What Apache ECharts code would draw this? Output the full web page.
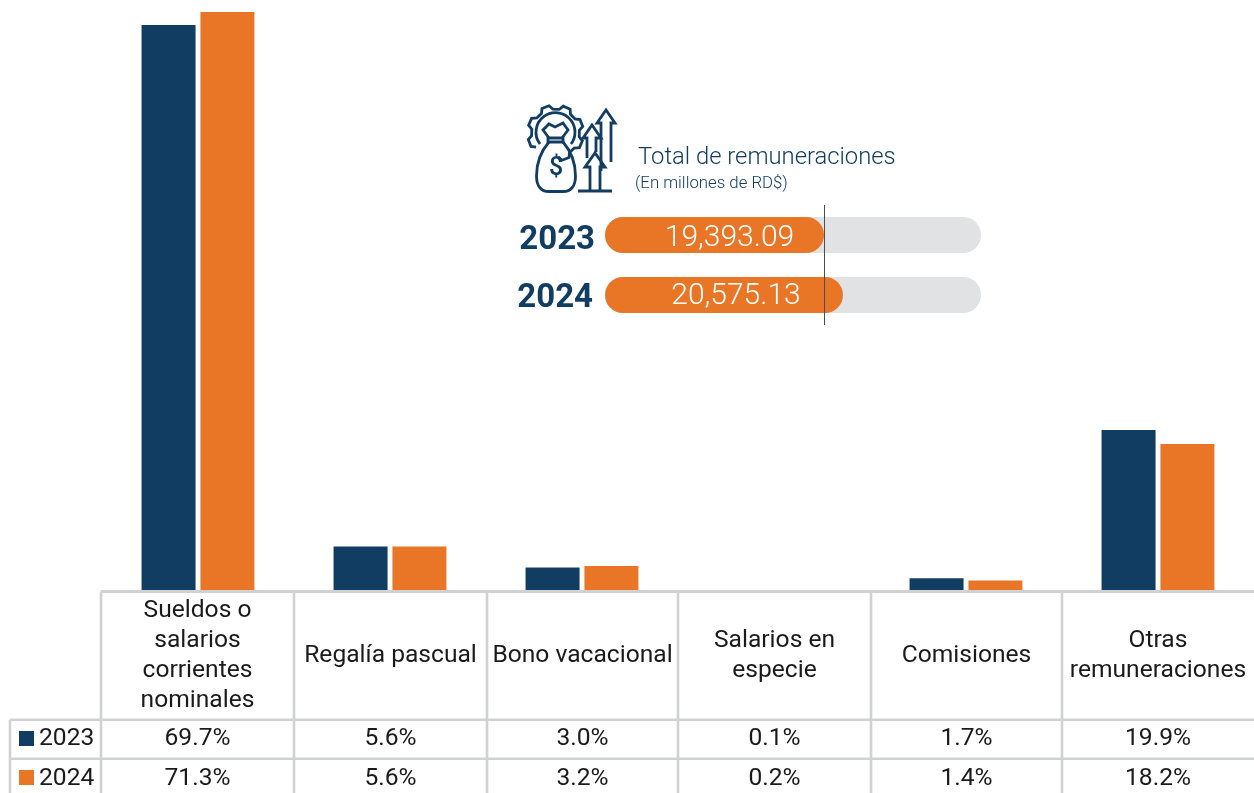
<!DOCTYPE html>
<html lang="es">
<head>
<meta charset="UTF-8">
<title>Total de remuneraciones</title>
<script src="https://cdn.jsdelivr.net/npm/echarts@6/dist/echarts.min.js"></script>
<style>
  html, body { margin: 0; padding: 0; background: #fff; }
  #main { width: 1254px; height: 793px; }
</style>
</head>
<body>
<div id="main"></div>
<script>
const categories = ['Sueldos o\nsalarios\ncorrientes\nnominales', 'Regalía pascual', 'Bono vacacional', 'Salarios en\nespecie', 'Comisiones', 'Otras\nremuneraciones'];
const values2023 = [69.7, 5.6, 3.0, 0.1, 1.7, 19.9];
const values2024 = [71.3, 5.6, 3.2, 0.2, 1.4, 18.2];
const years = ['2023', '2024'];
const totals = [19393.09, 20575.13];
const totalLabels = ['19,393.09', '20,575.13'];

const NAVY = '#123d63';
const ORANGE = '#e97627';
const LINE = '#d0d1d1';
const FONT = 'Roboto';

// table layout
const colEdges = [101, 294, 487, 678, 871, 1062, 1254];
const rowLines = [591.5, 719.7, 758.7];
const headerMid = 656, rowMids = [739, 779], legendTops = [731, 770];

let myChart = echarts.init(document.getElementById('main'), null, { renderer: 'canvas' });

function pct(v) { return v.toFixed(1) + '%'; }

function tableGraphics() {
    let g = [];
    function line(x1, y1, x2, y2, w) {
        g.push({ type: 'line', silent: true, z: 10, shape: { x1, y1, x2, y2 }, style: { stroke: LINE, lineWidth: w || 2.6 } });
    }
    function text(x, y, str, align) {
        g.push({ type: 'text', silent: true, z: 10, x, y, style: {
            text: str, font: '400 24.6px ' + FONT, fill: '#1a1a1a', align: align || 'center',
            verticalAlign: 'middle', lineHeight: 30
        } });
    }
    line(colEdges[0], rowLines[0], 1254, rowLines[0], 3);
    line(10, rowLines[1], 1254, rowLines[1]);
    line(10, rowLines[2], 1254, rowLines[2]);
    line(10, rowLines[1], 10, 793);
    colEdges.slice(0, -1).forEach(x => line(x, rowLines[0], x, 793));

    categories.forEach((c, i) => {
        let cx = (colEdges[i] + colEdges[i + 1]) / 2;
        text(cx, headerMid, c);
        text(cx, rowMids[0], pct(values2023[i]));
        text(cx, rowMids[1], pct(values2024[i]));
    });
    years.forEach((y, i) => {
        g.push({ type: 'rect', silent: true, z: 10, shape: { x: 19, y: legendTops[i], width: 15, height: 15 },
            style: { fill: i ? ORANGE : NAVY } });
        text(39, rowMids[i], y, 'left');
    });
    return g;
}

function titleGraphics() {
    return [
        { type: 'text', silent: true, x: 638, y: 158.5, style: {
            text: 'Total de remuneraciones', font: '300 23.8px ' + FONT, fill: NAVY, verticalAlign: 'middle' } },
        { type: 'text', silent: true, x: 635, y: 183.5, style: {
            text: '(En millones de RD$)', font: '300 16.8px ' + FONT, fill: NAVY, verticalAlign: 'middle' } }
    ];
}

function gearPath(cx, cy, r1, r2, teeth) {
    // open at the bottom where the bag covers it
    let d = '';
    let step = Math.PI * 2 / teeth;
    let start = Math.PI * 0.8;
    let pts = [];
    for (let i = 0; i < teeth - 1; i++) {
        let a = start + i * step;
        pts.push([a, r1], [a + step * 0.16, r2], [a + step * 0.5, r2], [a + step * 0.66, r1]);
    }
    pts.forEach((p, i) => {
        d += (i ? 'L' : 'M') + (cx + p[1] * Math.cos(p[0])).toFixed(1) + ' ' + (cy + p[1] * Math.sin(p[0])).toFixed(1);
    });
    return d;
}

// money bag icon, graphic has no path type so it goes through a custom series
const iconPaths = [
    gearPath(555.5, 133, 24, 28, 8),
    'M540 144A19.5 19.5 0 1 1 571 144',
    'M549 138L543 130L549 124L555 127L563 123L568 130L562 138',
    'M548 138L563 138L563 142L548 142Z',
    'M549 142C542 150 536.5 162 536.5 176C536.5 186 541 191.5 549 191.5L563 191.5C571 191.5 575.5 186 575.5 176C575.5 162 570 150 563 142',
    'M601 171V123H597L606 110L615 123H611V162',
    'M587 158V138H583L592 125L601 138H596V152',
    'M590 190V167H585L595 153L605 167H600V190',
    'M578 191H612'
];

function renderIcon() {
    let style = { stroke: NAVY, lineWidth: 2.8, fill: 'none', lineJoin: 'miter' };
    let children = iconPaths.map(p => ({ type: 'path', silent: true, shape: { pathData: p }, style }));
    children.push({ type: 'text', silent: true, x: 556, y: 169, style: {
        text: '$', font: '500 25px ' + FONT, fill: NAVY, align: 'center', verticalAlign: 'middle' } });
    return { type: 'group', children };
}

let option = {
    backgroundColor: '#fff',
    animation: false,
    grid: [
        { left: 102, width: 1152, top: 12, height: 580 },
        { left: 605, width: 376, top: 205, height: 120 }
    ],
    xAxis: [
        { type: 'category', gridIndex: 0, data: categories, axisLine: { show: false }, axisTick: { show: false }, axisLabel: { show: false } },
        { type: 'value', gridIndex: 1, min: 5766, max: 29163, show: false }
    ],
    yAxis: [
        { type: 'value', gridIndex: 0, min: 0, max: 71.3, show: false },
        {
            type: 'category', gridIndex: 1, data: years, inverse: true,
            axisLine: { show: false }, axisTick: { show: false },
            axisLabel: {
                margin: 10,
                formatter: (v, i) => (i ? '{b|' : '{a|') + v + '}',
                rich: {
                    a: { color: NAVY, fontFamily: FONT, fontWeight: 700, fontSize: 33, padding: [12, 0, 0, 0] },
                    b: { color: NAVY, fontFamily: FONT, fontWeight: 700, fontSize: 33, padding: [8, 2, 0, 0] }
                }
            }
        }
    ],
    series: [
        { name: '2023', type: 'bar', xAxisIndex: 0, yAxisIndex: 0, data: values2023, barWidth: 54, barGap: '9%', itemStyle: { color: NAVY } },
        { name: '2024', type: 'bar', xAxisIndex: 0, yAxisIndex: 0, data: values2024, barWidth: 54, itemStyle: { color: ORANGE } },
        {
            name: 'Total', type: 'bar', xAxisIndex: 1, yAxisIndex: 1, barWidth: 36,
            data: totals.map((v, i) => ({
                value: v,
                label: { formatter: totalLabels[i], offset: i ? [12, 1] : [15, 3] }
            })),
            showBackground: true,
            backgroundStyle: { color: '#e1e2e4', borderRadius: 18 },
            itemStyle: { color: ORANGE, borderRadius: 18 },
            label: { show: true, position: 'inside', color: '#fff', fontFamily: FONT, fontWeight: 300, fontSize: 30 },
            markLine: {
                silent: true, symbol: 'none', label: { show: false },
                lineStyle: { color: '#4a4f55', width: 1, type: 'solid' },
                data: [{ xAxis: totals[0] }]
            }
        },
        { type: 'custom', coordinateSystem: 'none', silent: true, data: [0], renderItem: renderIcon }
    ],
    graphic: tableGraphics().concat(titleGraphics())
};
myChart.setOption(option);
</script>
</body>
</html>
